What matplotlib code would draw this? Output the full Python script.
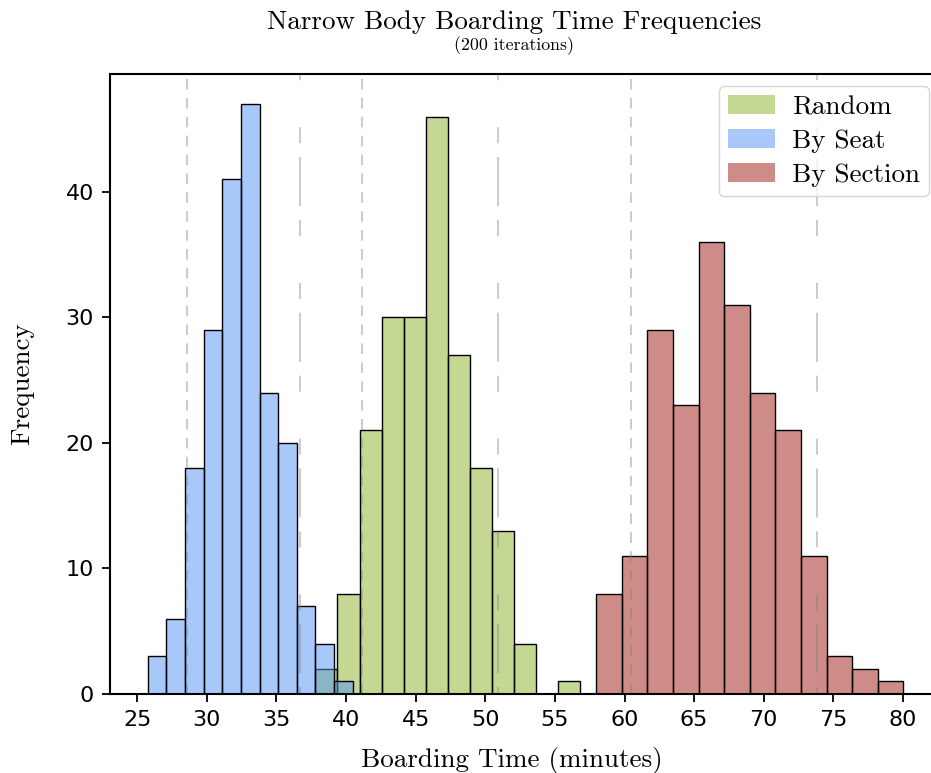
import numpy as np
import matplotlib
matplotlib.use("Agg")
import matplotlib.pyplot as plt
from matplotlib.colors import to_rgba
from matplotlib.patches import Patch

# histogrammes (200 iterations chacun)
labels = ["Random", "By Seat", "By Section"]
random_counts = [2, 8, 21, 30, 30, 46, 27, 18, 13, 4, 0, 1]
random_range = (37.80, 56.83)
seat_counts = [3, 6, 18, 29, 41, 47, 24, 20, 7, 4, 1]
seat_range = (25.76, 40.48)
section_counts = [8, 11, 29, 23, 36, 31, 24, 21, 11, 3, 2, 1]
section_range = (57.97, 80.02)

# lignes verticales (bas / haut de chaque distribution)
random_pct = (41.17, 50.94)
seat_pct = (28.59, 36.72)
section_pct = (60.49, 73.81)

colors = ["#8db329", "#5193f5", "#9f1b13"]
xticks = [25, 30, 35, 40, 45, 50, 55, 60, 65, 70, 75, 80]
yticks = [0, 10, 20, 30, 40]

plt.rcParams["lines.scale_dashes"] = False
cm = "cmr10"

W, H = 931, 773
fig = plt.figure(figsize=(W / 100, H / 100), dpi=100)
ax = fig.add_axes([110 / W, 1 - 694 / H, (941 - 110) / W, (694 - 74) / H])

all_counts = [random_counts, seat_counts, section_counts]
all_ranges = [random_range, seat_range, section_range]
for counts, rng, c in zip(all_counts, all_ranges, colors):
    edges = np.linspace(rng[0], rng[1], len(counts) + 1)
    ax.hist(edges[:-1], bins=edges, weights=counts, color=to_rgba(c, 0.5),
            edgecolor="black", linewidth=1.0)

for lo, hi in [random_pct, seat_pct, section_pct]:
    ax.axvline(lo, color="0.5", alpha=0.4, lw=1.5, linestyle=(0, (7.6, 6)))
    ax.axvline(hi, color="0.5", alpha=0.4, lw=1.5,
               linestyle=(6.5, (11.5, 10, 35.3, 10, 11.5, 33.8)))

ax.set_xlim(23.05, 82.73)
ax.set_ylim(0, 49.4)
ax.set_xticks(xticks)
ax.set_yticks(yticks)
ax.tick_params(labelsize=16, length=5.5, width=1.3, pad=6)
for s in ax.spines.values():
    s.set_linewidth(1.5)
ax.spines["right"].set_visible(False)

handles = [Patch(facecolor=to_rgba(c, 0.5), label=l) for c, l in zip(colors, labels)]
ax.legend(handles=handles, loc="upper right", prop={"family": cm, "size": 19.5},
          labelspacing=0.37, handlelength=1.74, handletextpad=0.63,
          borderpad=0.33, borderaxespad=0.45)

fig.text(514 / W, 1 - 29 / H, "Narrow Body Boarding Time Frequencies",
         ha="center", va="baseline", family=cm, size=19.5)
fig.text(514 / W, 1 - 50 / H, "(200 iterations)",
         ha="center", va="baseline", family=cm, size=12.8)
fig.text(511.5 / W, 1 - 767 / H, "Boarding Time (minutes)",
         ha="center", va="baseline", family=cm, size=19.5)
fig.text(22 / W, 1 - 384 / H, "Frequency", rotation=90,
         ha="center", va="center", family=cm, size=19.5)

fig.savefig("out.png", dpi=100)
